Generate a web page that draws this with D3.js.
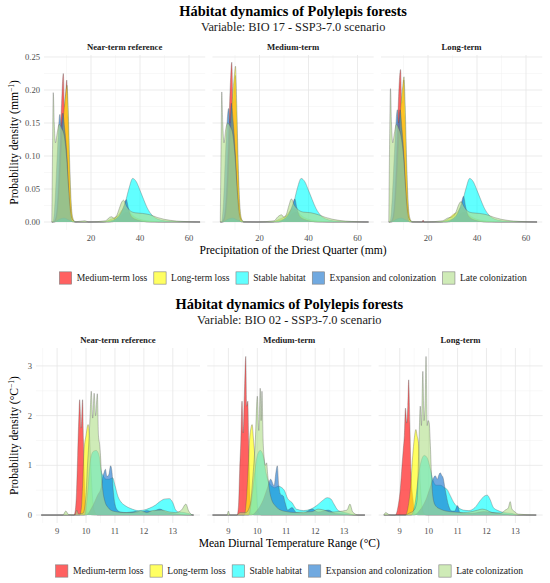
<!DOCTYPE html>
<html><head><meta charset="utf-8">
<script src="https://cdn.jsdelivr.net/npm/d3@7"></script>
<style>
body{margin:0;background:#fff}
svg{display:block}
text{font-family:"Liberation Serif","Times New Roman",serif}
</style>
</head><body>
<svg id="chart" width="550" height="583"></svg>
<script>
// ---------------- DATA ----------------
const seriesNames = ["Medium-term loss","Long-term loss","Stable habitat","Expansion and colonization","Late colonization"];
const seriesColors = ["#FF0000","#FFFF00","#00FFFF","#1874CD","#B2DF8A"];
const facetNames = ["Near-term reference","Medium-term","Long-term"];

const bio17XTicks = [20,40,60];
const bio17XMinor = [10,30,50];
const bio17YTicks = [0,0.05,0.10,0.15,0.20,0.25];
const bio17YMinor = [0.025,0.075,0.125,0.175,0.225];
const bio17Range = [4.0,64.5];

const bio02XTicks = [9,10,11,12,13];
const bio02XMinor = [8.5,9.5,10.5,11.5,12.5,13.5];
const bio02YTicks = [0,1,2,3];
const bio02YMinor = [0.5,1.5,2.5];
const bio02Range = [8.45,13.72];

// BIO 17 – Near-term reference  [x (mm), density]
const b17Near_medLoss = [[4.5,0],[5.5,0.005],[6.5,0.04],[7.3,0.11],[8.0,0.18],[8.7,0.225],[9.2,0.175],[9.6,0.19],[10.1,0.215],[10.6,0.16],[11.2,0.08],[11.8,0.025],[12.5,0.004],[13.5,0],[28,0],[31,0.004],[33,0.012],[35,0.015],[37,0.008],[40,0.002],[45,0]];
const b17Near_longLoss = [[5,0],[6,0.008],[7,0.05],[8,0.12],[9,0.17],[9.7,0.195],[10.2,0.207],[10.7,0.17],[11.3,0.09],[11.9,0.03],[12.6,0.006],[13.5,0],[25,0],[28,0.004],[31,0.01],[33.5,0.02],[35,0.018],[37,0.01],[40,0.004],[45,0.001],[50,0]];
const b17Near_stable = [[5,0],[7,0.004],[9,0.006],[11,0.003],[14,0],[24,0],[28,0.002],[30.5,0.006],[32.5,0.016],[34,0.03],[35.5,0.051],[37,0.066],[38.5,0.061],[40,0.048],[41.5,0.034],[43,0.021],[45,0.01],[47.5,0.004],[51,0.0015],[56,0.0005],[62,0]];
const b17Near_expansion = [[4.5,0],[5.3,0.03],[6.2,0.1],[7.3,0.163],[7.8,0.145],[8.5,0.165],[9.3,0.14],[10.2,0.1],[10.9,0.045],[11.6,0.01],[12.5,0],[27,0],[30,0.004],[32,0.012],[33.5,0.025],[34.4,0.034],[35.2,0.022],[36.5,0.008],[39,0.003],[44,0]];
const b17Near_late = [[4.0,0],[4.3,0.11],[4.6,0.196],[5.0,0.15],[5.5,0.12],[6.2,0.135],[7.0,0.148],[8.0,0.142],[9.0,0.132],[10.0,0.1],[10.9,0.05],[11.7,0.015],[12.6,0.003],[14,0.0005],[17.5,0.002],[19,0],[26,0.002],[27.5,0.007],[28.5,0.008],[29.5,0.005],[30.5,0.01],[31.5,0.02],[32.5,0.03],[33.3,0.033],[34.5,0.024],[36,0.017],[38,0.014],[41,0.013],[44,0.011],[47,0.007],[50,0.004],[55,0.0015],[60,0.0005],[64.5,0]];

// BIO 17 – Medium-term
const b17Mid_medLoss = [[4.5,0],[5.5,0.006],[6.5,0.045],[7.3,0.12],[8.0,0.2],[8.7,0.242],[9.2,0.18],[9.6,0.2],[10.1,0.222],[10.6,0.165],[11.2,0.08],[11.8,0.025],[12.5,0.004],[13.5,0],[28,0],[31,0.004],[33,0.012],[35,0.015],[37,0.008],[40,0.002],[45,0]];
const b17Mid_longLoss = [[5,0],[6,0.008],[7,0.05],[8,0.13],[9,0.19],[9.7,0.22],[10.2,0.236],[10.7,0.18],[11.3,0.09],[11.9,0.03],[12.6,0.006],[13.5,0],[25,0],[28,0.004],[31,0.01],[33.5,0.02],[35,0.018],[37,0.01],[40,0.004],[45,0.001],[50,0]];
const b17Mid_stable = [[5,0],[7,0.004],[9,0.006],[11,0.003],[14,0],[24,0],[28,0.002],[30.5,0.006],[32.5,0.016],[34,0.03],[35.5,0.052],[37,0.066],[38.5,0.061],[40,0.048],[41.5,0.034],[43,0.021],[45,0.01],[47.5,0.004],[51,0.0015],[56,0.0005],[62,0]];
const b17Mid_expansion = [[4.5,0],[5.3,0.03],[6.2,0.11],[7.4,0.172],[7.9,0.15],[8.5,0.18],[9.3,0.15],[10.2,0.1],[10.9,0.045],[11.6,0.01],[12.5,0],[27,0],[30,0.004],[32,0.012],[33.5,0.026],[34.4,0.035],[35.2,0.022],[36.5,0.008],[39,0.003],[44,0]];
const b17Mid_late = [[4.0,0],[4.3,0.11],[4.6,0.197],[5.0,0.15],[5.5,0.12],[6.2,0.14],[7.0,0.15],[8.0,0.145],[9.0,0.135],[10.0,0.1],[10.9,0.05],[11.7,0.015],[12.6,0.003],[14,0.0005],[19,0],[26,0.002],[27.5,0.008],[29,0.011],[30,0.007],[31,0.012],[32,0.025],[33,0.035],[34.3,0.025],[36,0.018],[38,0.015],[41,0.014],[44,0.011],[47,0.007],[50,0.004],[55,0.0015],[60,0.0005],[64.5,0]];

// BIO 17 – Long-term
const b17Long_medLoss = [[4.5,0],[5.5,0.005],[6.5,0.04],[7.3,0.11],[8.0,0.19],[8.8,0.231],[9.3,0.18],[9.7,0.195],[10.1,0.215],[10.6,0.16],[11.2,0.08],[11.8,0.025],[12.5,0.004],[13.5,0],[17.6,0],[18,0.003],[18.4,0],[28,0],[31,0.004],[33,0.012],[35,0.015],[37,0.008],[40,0.002],[45,0]];
const b17Long_longLoss = [[5,0],[6,0.008],[7,0.05],[8,0.12],[9,0.18],[9.7,0.205],[10.2,0.22],[10.7,0.175],[11.3,0.09],[11.9,0.03],[12.6,0.006],[13.5,0],[25,0],[28,0.004],[30.5,0.012],[32,0.015],[33.5,0.022],[35,0.018],[37,0.01],[40,0.004],[45,0.001],[50,0]];
const b17Long_stable = [[5,0],[7,0.004],[9,0.006],[11,0.003],[14,0],[24,0],[28,0.002],[30.5,0.006],[32.5,0.016],[34,0.03],[35.5,0.051],[37,0.066],[38.5,0.061],[40,0.048],[41.5,0.034],[43,0.021],[45,0.01],[47.5,0.004],[51,0.0015],[56,0.0005],[62,0]];
const b17Long_expansion = [[4.5,0],[5.3,0.03],[6.3,0.105],[7.5,0.17],[8.0,0.15],[8.6,0.17],[9.4,0.14],[10.2,0.1],[10.9,0.045],[11.6,0.01],[12.5,0],[27,0],[30,0.004],[32,0.012],[33.5,0.027],[34.5,0.039],[35.3,0.024],[36.5,0.009],[39,0.003],[44,0]];
const b17Long_late = [[4.0,0],[4.3,0.11],[4.7,0.202],[5.1,0.15],[5.6,0.12],[6.3,0.135],[7.1,0.148],[8.0,0.142],[9.0,0.13],[10.0,0.1],[10.9,0.05],[11.7,0.015],[12.6,0.003],[14,0.0005],[19,0],[26,0.002],[28,0.006],[30,0.008],[31.5,0.016],[32.5,0.026],[33.5,0.031],[34.6,0.024],[36,0.017],[38,0.014],[41,0.013],[44,0.011],[47,0.007],[50,0.004],[55,0.0015],[60,0.0005],[64.5,0]];

// BIO 02 – Near-term reference  [x (°C), density]
const b02Near_medLoss = [[9.58,0],[9.63,0.1],[9.67,0.45],[9.71,1.2],[9.75,1.95],[9.78,2.32],[9.83,1.75],[9.88,2.32],[9.91,1.5],[9.95,0.6],[10.0,0.12],[10.1,0.02],[10.3,0]];
const b02Near_longLoss = [[9.78,0],[9.84,0.15],[9.88,0.6],[9.93,1.3],[10.0,1.6],[10.07,1.82],[10.12,1.6],[10.17,0.95],[10.22,0.4],[10.29,0.08],[10.4,0]];
const b02Near_stable = [[9.95,0],[10.05,0.4],[10.15,1.1],[10.25,1.28],[10.35,1.3],[10.45,1.2],[10.52,0.9],[10.6,0.78],[10.7,0.72],[10.8,0.72],[10.92,0.75],[11.0,0.6],[11.1,0.38],[11.2,0.27],[11.35,0.19],[11.55,0.13],[11.8,0.09],[12.0,0.1],[12.2,0.14],[12.4,0.2],[12.55,0.27],[12.7,0.32],[12.88,0.33],[13.0,0.25],[13.1,0.1],[13.2,0.06],[13.4,0.05],[13.6,0.02],[13.7,0]];
const b02Near_expansion = [[10.0,0],[10.2,0.15],[10.4,0.4],[10.52,0.55],[10.57,0.75],[10.62,0.85],[10.67,0.92],[10.72,0.78],[10.78,0.8],[10.85,0.99],[10.9,0.85],[10.94,0.5],[11.0,0.22],[11.08,0.1],[11.2,0.06],[11.4,0.05],[11.7,0.07],[11.9,0.05],[12.1,0.09],[12.3,0.07],[12.55,0.12],[12.75,0.06],[13.0,0.03],[13.3,0.01],[13.6,0]];
const b02Near_late = [[9.2,0],[9.3,0.08],[9.4,0.01],[9.62,0],[9.68,0.1],[9.74,0.02],[9.9,0.04],[10.0,0.4],[10.05,1.0],[10.1,1.5],[10.14,2.0],[10.18,2.49],[10.23,1.95],[10.28,2.45],[10.33,2.0],[10.39,2.44],[10.43,1.6],[10.47,1.42],[10.5,1.2],[10.53,0.85],[10.58,0.5],[10.65,0.28],[10.75,0.16],[10.85,0.1],[11.0,0.07],[11.3,0.05],[11.6,0.05],[11.9,0.08],[12.1,0.05],[12.3,0.09],[12.6,0.1],[12.9,0.06],[13.1,0.05],[13.3,0.1],[13.45,0.22],[13.55,0.08],[13.7,0]];

// BIO 02 – Medium-term
const b02Mid_medLoss = [[9.3,0],[9.35,0.2],[9.39,0.92],[9.43,1.5],[9.47,2.29],[9.51,1.65],[9.55,2.4],[9.6,3.19],[9.63,2.19],[9.67,2.29],[9.7,1.5],[9.74,0.52],[9.78,0.05],[9.9,0]];
const b02Mid_longLoss = [[9.55,0],[9.62,0.3],[9.68,0.9],[9.73,1.5],[9.78,1.75],[9.82,1.82],[9.87,1.5],[9.92,1.1],[9.97,0.5],[10.02,0.08],[10.15,0]];
const b02Mid_stable = [[9.7,0],[9.8,0.3],[9.9,0.8],[10.0,1.2],[10.1,1.3],[10.2,1.2],[10.3,0.85],[10.4,0.65],[10.5,0.58],[10.6,0.55],[10.72,0.58],[10.85,0.55],[10.93,0.5],[11.05,0.33],[11.2,0.25],[11.35,0.12],[11.6,0.09],[11.85,0.12],[12.05,0.19],[12.25,0.29],[12.42,0.35],[12.55,0.32],[12.65,0.22],[12.8,0.09],[13.1,0.04],[13.4,0]];
const b02Mid_expansion = [[9.8,0],[10.0,0.1],[10.2,0.3],[10.35,0.55],[10.46,0.72],[10.58,0.59],[10.64,0.85],[10.69,0.99],[10.74,0.6],[10.8,0.42],[10.9,0.38],[10.96,0.25],[11.05,0.1],[11.2,0.15],[11.35,0.05],[11.6,0.04],[11.9,0.12],[12.1,0.06],[12.45,0.1],[12.7,0.03],[13.0,0.02],[13.3,0]];
const b02Mid_late = [[8.95,0],[9.0,0.08],[9.05,0],[9.3,0],[9.4,0.05],[9.6,0.05],[9.75,0.2],[9.85,0.8],[9.93,1.5],[10.0,2.39],[10.05,1.7],[10.1,2.55],[10.13,1.9],[10.16,2.49],[10.2,1.5],[10.23,1.19],[10.28,1.0],[10.32,1.05],[10.36,0.8],[10.42,0.5],[10.5,0.3],[10.6,0.2],[10.8,0.1],[11.0,0.07],[11.3,0.05],[11.6,0.06],[11.9,0.07],[12.1,0.12],[12.3,0.1],[12.55,0.06],[12.8,0.07],[13.1,0.1],[13.2,0.22],[13.3,0.06],[13.5,0]];

// BIO 02 – Long-term
const b02Long_medLoss = [[8.85,0],[8.95,0.2],[9.02,0.52],[9.08,1.0],[9.12,1.3],[9.16,1.6],[9.2,2.15],[9.24,1.85],[9.28,2.2],[9.31,2.72],[9.35,1.85],[9.39,0.85],[9.46,0.32],[9.52,0.05],[9.65,0]];
const b02Long_longLoss = [[9.2,0],[9.3,0.2],[9.38,0.6],[9.45,1.2],[9.5,1.52],[9.56,1.72],[9.6,1.6],[9.66,1.39],[9.71,0.65],[9.77,0.19],[9.85,0.02],[9.95,0]];
const b02Long_stable = [[9.4,0],[9.55,0.3],[9.65,0.8],[9.75,1.1],[9.85,1.2],[9.95,1.15],[10.05,0.95],[10.15,0.7],[10.25,0.6],[10.4,0.6],[10.55,0.55],[10.63,0.52],[10.75,0.39],[10.87,0.25],[11.03,0.15],[11.2,0.1],[11.38,0.09],[11.6,0.15],[11.78,0.29],[11.95,0.39],[12.03,0.4],[12.12,0.32],[12.24,0.15],[12.4,0.09],[12.6,0.05],[12.9,0.03],[13.1,0]];
const b02Long_expansion = [[9.5,0],[9.7,0.1],[9.9,0.3],[10.05,0.55],[10.15,0.72],[10.23,0.79],[10.3,0.72],[10.35,0.8],[10.4,0.85],[10.45,0.8],[10.5,0.75],[10.57,0.52],[10.69,0.19],[10.8,0.08],[10.9,0.08],[11.0,0.19],[11.08,0.05],[11.3,0.03],[11.6,0.04],[11.9,0.07],[12.2,0.05],[12.6,0.02],[13.0,0]];
const b02Long_late = [[8.45,0],[8.52,0.05],[8.6,0.02],[8.7,0],[9.2,0],[9.3,0.03],[9.5,0.1],[9.6,0.3],[9.66,1.32],[9.71,2.19],[9.75,1.8],[9.8,2.89],[9.84,1.9],[9.88,2.3],[9.91,3.19],[9.95,1.8],[9.98,1.9],[10.02,1.85],[10.06,1.4],[10.11,0.65],[10.16,0.32],[10.25,0.18],[10.4,0.12],[10.6,0.08],[10.9,0.06],[11.2,0.05],[11.5,0.07],[11.7,0.1],[11.85,0.12],[12.0,0.1],[12.2,0.05],[12.5,0.04],[12.65,0.1],[12.75,0.14],[12.82,0.27],[12.88,0.12],[12.95,0.08],[13.1,0.02],[13.7,0]];

// ---------------- CHART ----------------
const svg = d3.select("#chart");

const charts = [
  {
    offsetY: 0,
    title: "Hábitat dynamics of Polylepis forests",
    subtitle: "Variable: BIO 17 - SSP3-7.0 scenario",
    xLabel: "Precipitation of the Driest Quarter (mm)",
    yUnit: "mm",
    facets: [
      [b17Near_medLoss,b17Near_longLoss,b17Near_stable,b17Near_expansion,b17Near_late],
      [b17Mid_medLoss,b17Mid_longLoss,b17Mid_stable,b17Mid_expansion,b17Mid_late],
      [b17Long_medLoss,b17Long_longLoss,b17Long_stable,b17Long_expansion,b17Long_late]
    ],
    range: bio17Range,
    xDomain: [0.82, 66.6], yDomain: [-0.0121, 0.253],
    xTicks: bio17XTicks, xMinor: bio17XMinor, yTicks: bio17YTicks, yMinor: bio17YMinor,
    yFmt: d3.format(".2f"), xFmt: d3.format("d"),
    left: 44, panelW: 161.2, gap: 7.3
  },
  {
    offsetY: 293,
    title: "Hábitat dynamics of Polylepis forests",
    subtitle: "Variable: BIO 02 - SSP3-7.0 scenario",
    xLabel: "Mean Diurnal Temperature Range (°C)",
    yUnit: "°C",
    facets: [
      [b02Near_medLoss,b02Near_longLoss,b02Near_stable,b02Near_expansion,b02Near_late],
      [b02Mid_medLoss,b02Mid_longLoss,b02Mid_stable,b02Mid_expansion,b02Mid_late],
      [b02Long_medLoss,b02Long_longLoss,b02Long_stable,b02Long_expansion,b02Long_late]
    ],
    range: bio02Range,
    xDomain: [8.27, 13.94], yDomain: [-0.16, 3.36],
    xTicks: bio02XTicks, xMinor: bio02XMinor, yTicks: bio02YTicks, yMinor: bio02YMinor,
    yFmt: d3.format("d"), xFmt: d3.format("d"),
    left: 36, panelW: 164, gap: 7.3
  }
];

const ALPHA = 0.62;
const panelTop = 55, panelBot = 230;

charts.forEach(ch => {
  const g = svg.append("g").attr("transform", `translate(0,${ch.offsetY})`);
  const right = ch.left + 3*ch.panelW + 2*ch.gap;
  const cx = (ch.left + right) / 2;

  g.append("text").attr("x", cx).attr("y", 15.5).attr("text-anchor","middle")
    .attr("font-size", 14.4).attr("font-weight","bold").attr("fill","#000").text(ch.title);
  g.append("text").attr("x", cx).attr("y", 31).attr("text-anchor","middle")
    .attr("font-size", 12.3).attr("fill","#1a1a1a").text(ch.subtitle);

  const y = d3.scaleLinear().domain(ch.yDomain).range([panelBot, panelTop]);

  ch.facets.forEach((series, fi) => {
    const x0 = ch.left + fi*(ch.panelW + ch.gap);
    const x = d3.scaleLinear().domain(ch.xDomain).range([x0, x0 + ch.panelW]);
    const pg = g.append("g");

    // grid
    pg.selectAll(".vminor").data(ch.xMinor.filter(v => v > ch.xDomain[0] && v < ch.xDomain[1])).join("line")
      .attr("x1", d => x(d)).attr("x2", d => x(d)).attr("y1", panelTop).attr("y2", panelBot)
      .attr("stroke", "#f1f1f1").attr("stroke-width", 0.5);
    pg.selectAll(".hminor").data(ch.yMinor).join("line")
      .attr("x1", x0).attr("x2", x0 + ch.panelW).attr("y1", d => y(d)).attr("y2", d => y(d))
      .attr("stroke", "#f1f1f1").attr("stroke-width", 0.5);
    pg.selectAll(".vmajor").data(ch.xTicks).join("line")
      .attr("x1", d => x(d)).attr("x2", d => x(d)).attr("y1", panelTop).attr("y2", panelBot)
      .attr("stroke", "#e6e6e6").attr("stroke-width", 0.8);
    pg.selectAll(".hmajor").data(ch.yTicks).join("line")
      .attr("x1", x0).attr("x2", x0 + ch.panelW).attr("y1", d => y(d)).attr("y2", d => y(d))
      .attr("stroke", "#e6e6e6").attr("stroke-width", 0.8);

    // densities
    const area = d3.area().x(d => x(d[0])).y0(y(0)).y1(d => y(d[1])).curve(d3.curveMonotoneX);
    const line = d3.line().x(d => x(d[0])).y(d => y(d[1])).curve(d3.curveMonotoneX);
    series.forEach((pts, si) => {
      let p = pts.slice();
      if (p[0][0] > ch.range[0]) p.unshift([ch.range[0], 0]);
      if (p[p.length-1][0] < ch.range[1]) p.push([ch.range[1], 0]);
      pg.append("path").datum(p).attr("d", area)
        .attr("fill", seriesColors[si]).attr("fill-opacity", ALPHA);
      pg.append("path").datum(p).attr("d", line)
        .attr("fill", "none").attr("stroke", "#555").attr("stroke-opacity", 0.75).attr("stroke-width", 0.45);
    });

    // facet label
    g.append("text").attr("x", x0 + ch.panelW/2).attr("y", 49.7).attr("text-anchor","middle")
      .attr("font-size", 8.7).attr("font-weight","bold").attr("fill","#1a1a1a").text(facetNames[fi]);

    // x tick labels
    g.selectAll(null).data(ch.xTicks).join("text")
      .attr("x", d => x(d)).attr("y", 241).attr("text-anchor","middle")
      .attr("font-size", 8.6).attr("fill","#4d4d4d").text(d => ch.xFmt(d));

    // y tick labels on first panel only
    if (fi === 0) {
      g.selectAll(null).data(ch.yTicks).join("text")
        .attr("x", x0 - 4).attr("y", d => y(d)).attr("dy","0.35em").attr("text-anchor","end")
        .attr("font-size", 8.6).attr("fill","#4d4d4d").text(d => ch.yFmt(d));
    }
  });

  // axis titles
  g.append("text").attr("x", cx).attr("y", 254).attr("text-anchor","middle")
    .attr("font-size", 11.6).attr("fill","#000").text(ch.xLabel);
  const yt = g.append("text").attr("transform", `translate(17.5,${(panelTop+panelBot)/2}) rotate(-90)`)
    .attr("text-anchor","middle").attr("font-size", 11.6).attr("fill","#000");
  yt.append("tspan").text("Probability density (" + ch.yUnit);
  yt.append("tspan").attr("dy", -4).attr("font-size", 7.5).text("−1");
  yt.append("tspan").attr("dy", 4).text(")");

  // legend
  const lg = g.append("g");
  const keyS = 12.3, keyGap = 5, itemGap = 6.5;
  const items = [];
  seriesNames.forEach((nm, i) => {
    const it = lg.append("g");
    it.append("rect").attr("x", 0).attr("y", 278 - keyS/2).attr("width", keyS).attr("height", keyS)
      .attr("fill", seriesColors[i]).attr("fill-opacity", ALPHA)
      .attr("stroke", "#808080").attr("stroke-width", 0.6);
    const t = it.append("text").attr("x", keyS + keyGap).attr("y", 281.3)
      .attr("font-size", 9.6).attr("fill","#1a1a1a").text(nm);
    const w = keyS + keyGap + t.node().getComputedTextLength();
    items.push({it, w});
  });
  const total = d3.sum(items, d => d.w) + itemGap*(items.length-1);
  let xpos = cx - total/2;
  items.forEach(d => { d.it.attr("transform", `translate(${xpos},0)`); xpos += d.w + itemGap; });
});
</script>
</body></html>
